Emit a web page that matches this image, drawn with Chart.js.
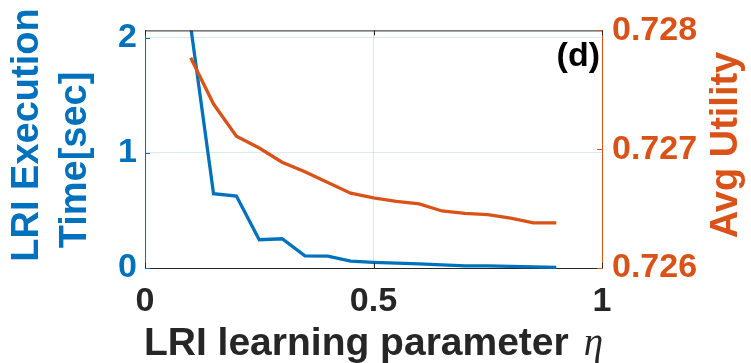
<!DOCTYPE html>
<html>
<head>
<meta charset="utf-8">
<script src="https://cdn.jsdelivr.net/npm/chart.js@4/dist/chart.umd.min.js"></script>
<style>
  html, body { margin: 0; padding: 0; background: #fff; }
  #wrap { width: 751px; height: 363px; }
</style>
</head>
<body>
<div id="wrap"><canvas id="c" width="751" height="363"></canvas></div>
<script>
// LRI learning parameter (eta) sweep
const etaValues = [0.1, 0.15, 0.2, 0.25, 0.3, 0.35, 0.4, 0.45, 0.5, 0.55, 0.6, 0.65, 0.7, 0.75, 0.8, 0.85, 0.9];
// LRI execution time in seconds (left axis)
const execTime = [2.1, 0.646, 0.626, 0.246, 0.254, 0.105, 0.103, 0.06, 0.049, 0.042, 0.035, 0.027, 0.019, 0.018, 0.015, 0.01, 0.005];
// Average utility (right axis)
const avgUtility = [0.72777, 0.72738, 0.72711, 0.72701, 0.72689, 0.72681, 0.72672, 0.72663, 0.72659, 0.72656, 0.72654, 0.72648, 0.72646, 0.72645, 0.72642, 0.72638, 0.72638];

const xTicks = [0, 0.5, 1];
const timeTicks = [0, 1, 2];
const utilityTicks = [0.726, 0.727, 0.728];

const BLUE = '#0072BD';
const ORANGE = '#D95319';
const INK = '#262626';
const SANS = '"Liberation Sans", Arial, Helvetica, sans-serif';
const SERIF = '"Liberation Serif", "Times New Roman", serif';

const timePoints = etaValues.map((x, i) => ({ x, y: execTime[i] }));
const utilityPoints = etaValues.map((x, i) => ({ x, y: avgUtility[i] }));

const tickFont = { family: SANS, size: 34, weight: 'bold' };

// Box edge on top, inward tick marks, axis titles and panel tag
const decorations = {
  id: 'decorations',
  afterDraw(chart) {
    const { ctx, chartArea: a, scales } = chart;
    const T = 5;
    const seg = (x1, y1, x2, y2, color) => {
      ctx.strokeStyle = color;
      ctx.lineWidth = 1;
      ctx.beginPath();
      ctx.moveTo(x1, y1);
      ctx.lineTo(x2, y2);
      ctx.stroke();
    };
    ctx.save();
    seg(a.left, a.top + 0.5, a.right, a.top + 0.5, INK);

    scales.x.ticks.forEach(t => {
      const px = Math.round(scales.x.getPixelForValue(t.value)) + 0.5;
      seg(px, a.bottom, px, a.bottom - T, INK);
      seg(px, a.top, px, a.top + T, INK);
    });
    scales.y.ticks.forEach(t => {
      const py = Math.round(scales.y.getPixelForValue(t.value)) + 0.5;
      seg(a.left, py, a.left + T, py, BLUE);
    });
    scales.y1.ticks.forEach(t => {
      const py = Math.round(scales.y1.getPixelForValue(t.value)) + 0.5;
      seg(a.right, py, a.right - T, py, ORANGE);
    });

    // x-axis title with italic eta
    const cx = (a.left + a.right) / 2;
    const label = 'LRI learning parameter';
    ctx.font = 'bold 39px ' + SANS;
    const w1 = ctx.measureText(label).width;
    ctx.font = 'italic 39px ' + SERIF;
    const w2 = ctx.measureText('η').width;
    const gap = 15;
    const x0 = cx - (w1 + gap + w2) / 2;
    ctx.textBaseline = 'alphabetic';
    ctx.textAlign = 'left';
    ctx.fillStyle = INK;
    ctx.font = 'bold 39px ' + SANS;
    ctx.fillText(label, x0, a.bottom + 87);
    ctx.font = 'italic 39px ' + SERIF;
    ctx.fillText('η', x0 + w1 + gap, a.bottom + 87);

    // left axis title, two lines
    ctx.font = 'bold 38px ' + SANS;
    ctx.fillStyle = BLUE;
    ctx.textAlign = 'center';
    ctx.textBaseline = 'middle';
    ctx.save();
    ctx.translate(28, 135);
    ctx.rotate(-Math.PI / 2);
    ctx.fillText('LRI Execution', 0, 0);
    ctx.restore();
    ctx.save();
    ctx.translate(76, 160);
    ctx.rotate(-Math.PI / 2);
    ctx.fillText('Time[sec]', 0, 0);
    ctx.restore();

    // right axis title, reading upward
    ctx.fillStyle = ORANGE;
    ctx.save();
    ctx.translate(727, 145);
    ctx.rotate(-Math.PI / 2);
    ctx.fillText('Avg Utility', 0, 0);
    ctx.restore();

    // panel tag
    ctx.fillStyle = '#000';
    ctx.font = 'bold 34px ' + SANS;
    ctx.textAlign = 'right';
    ctx.textBaseline = 'alphabetic';
    ctx.fillText('(d)', a.right - 2, a.top + 36);
    ctx.restore();
  }
};

new Chart(document.getElementById('c'), {
  type: 'line',
  data: {
    datasets: [
      {
        label: 'Avg Utility',
        data: utilityPoints,
        yAxisID: 'y1',
        borderColor: ORANGE,
        borderWidth: 3.3,
        pointRadius: 0,
        tension: 0,
        order: 0,
        clip: { left: 4, right: 4, top: 4, bottom: 4 }
      },
      {
        label: 'LRI Execution Time[sec]',
        data: timePoints,
        yAxisID: 'y',
        borderColor: BLUE,
        borderWidth: 3.3,
        pointRadius: 0,
        tension: 0,
        order: 1,
        clip: { left: 4, right: 4, top: 0, bottom: 2 }
      }
    ]
  },
  options: {
    responsive: false,
    animation: false,
    devicePixelRatio: 1,
    layout: { padding: { top: 27, left: 0, right: 0, bottom: 0 } },
    plugins: { legend: { display: false }, tooltip: { enabled: false } },
    scales: {
      x: {
        type: 'linear',
        position: 'bottom',
        min: 0,
        max: 1,
        afterBuildTicks: s => { s.ticks = xTicks.map(v => ({ value: v })); },
        afterFit: s => { s.height = 95; },
        ticks: {
          font: tickFont,
          color: INK,
          padding: 13,
          callback: v => String(v)
        },
        grid: { color: 'rgba(38,38,38,0.12)', lineWidth: 1, drawTicks: false },
        border: { color: INK, width: 1 }
      },
      y: {
        type: 'linear',
        position: 'left',
        min: 0,
        max: 2.066,
        afterBuildTicks: s => { s.ticks = timeTicks.map(v => ({ value: v })); },
        afterFit: s => { s.width = 145; },
        ticks: {
          font: tickFont,
          color: BLUE,
          padding: 8,
          callback: v => String(v)
        },
        grid: { color: 'rgba(0,114,189,0.15)', lineWidth: 1, drawTicks: false },
        border: { color: BLUE, width: 1 }
      },
      y1: {
        type: 'linear',
        position: 'right',
        min: 0.726,
        max: 0.728,
        afterBuildTicks: s => { s.ticks = utilityTicks.map(v => ({ value: v })); },
        afterFit: s => { s.width = 149; },
        ticks: {
          font: tickFont,
          color: ORANGE,
          padding: 10,
          callback: v => v.toFixed(3)
        },
        grid: { display: false, drawTicks: false },
        border: { color: ORANGE, width: 1 }
      }
    }
  },
  plugins: [decorations]
});
</script>
</body>
</html>
